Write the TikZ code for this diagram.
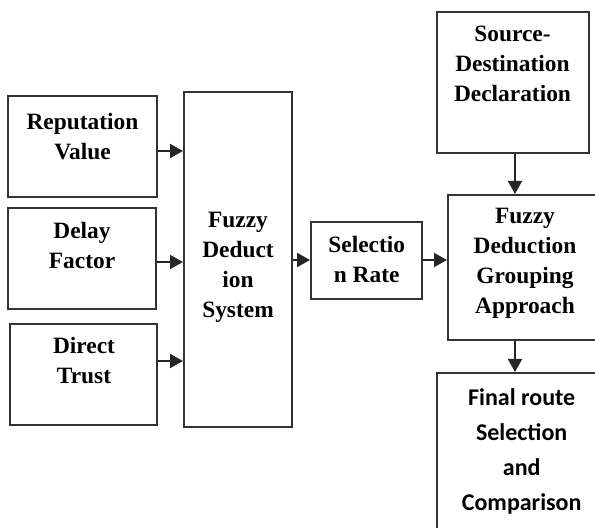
\documentclass[tikz,border=0pt]{standalone}
\usepackage{fontspec}
\newfontfamily\tms{Liberation Serif}[BoldFont={Liberation Serif Bold}]
\newfontfamily\calib{Carlito}[BoldFont={Carlito Bold}]
\usetikzlibrary{arrows.meta}
\begin{document}
\begin{tikzpicture}[x=0.5pt,y=-0.5pt,
  box/.style={draw=black!80,line width=1pt,minimum width=#1,inner sep=0pt},
  txt/.style={align=center,font=\tms\fontsize{11.7pt}{15pt}\selectfont\bfseries,inner sep=0pt},
  ftxt/.style={align=center,font=\calib\fontsize{12pt}{17.5pt}\selectfont\bfseries,inner sep=0pt},
  arr/.style={draw=black!85,line width=1pt,-{Triangle[length=6.5pt,width=7pt]}}]
\useasboundingbox (0,0) rectangle (595,528);
\clip (0,0) rectangle (595,528);
% boxes (sizes in half-points)
\node[box=74.5pt,minimum height=50.5pt] (rep) at (82.5,146.5) {};
\node[box=74pt,minimum height=50.5pt] (del) at (82,258.5) {};
\node[box=73.5pt,minimum height=50.5pt] (dir) at (83.5,374.5) {};
\node[box=54pt,minimum height=167.5pt] (sys) at (238,259.5) {};
\node[box=55.5pt,minimum height=38.5pt] (sel) at (366.5,260.5) {};
\node[box=76pt,minimum height=70.5pt] (src) at (513,82.5) {};
\node[box=77pt,minimum height=72.5pt] (grp) at (525,267.5) {};
\node[box=86.5pt,minimum height=86pt] (fin) at (523.5,459) {};
% texts
\node[txt] (repT) at (82.5,137) {Reputation\\Value};
\node[txt] (delT) at (82,246) {Delay\\Factor};
\node[txt] (dirT) at (84,361) {Direct\\Trust};
\node[txt] (sysT) at (238,267) {Fuzzy\\Deduct\\ion\\System};
\node[txt] (selT) at (366.7,260) {Selectio\\n Rate};
\node[txt] (srcT) at (512.5,64) {Source-\\Destination\\Declaration};
\node[txt] (grpT) at (525,263) {Fuzzy\\Deduction\\Grouping\\Approach};
\node[ftxt] (finT) at (521.7,451) {Final route\\Selection\\and\\Comparison};
% arrow rows
\coordinate (r1) at (0,151);
\coordinate (r2) at (0,262);
\coordinate (r3) at (0,361);
\coordinate (r4) at (0,260);
\coordinate (c1) at (515,0);
\draw[arr] (rep.east |- r1) -- (sys.west |- r1);
\draw[arr] (del.east |- r2) -- (sys.west |- r2);
\draw[arr] (dir.east |- r3) -- (sys.west |- r3);
\draw[arr] (sys.east |- r4) -- (sel.west |- r4);
\draw[arr] (sel.east |- r4) -- (grp.west |- r4);
\draw[arr] (src.south -| c1) -- (grp.north -| c1);
\draw[arr] (grp.south -| c1) -- (fin.north -| c1);
\end{tikzpicture}
\end{document}
